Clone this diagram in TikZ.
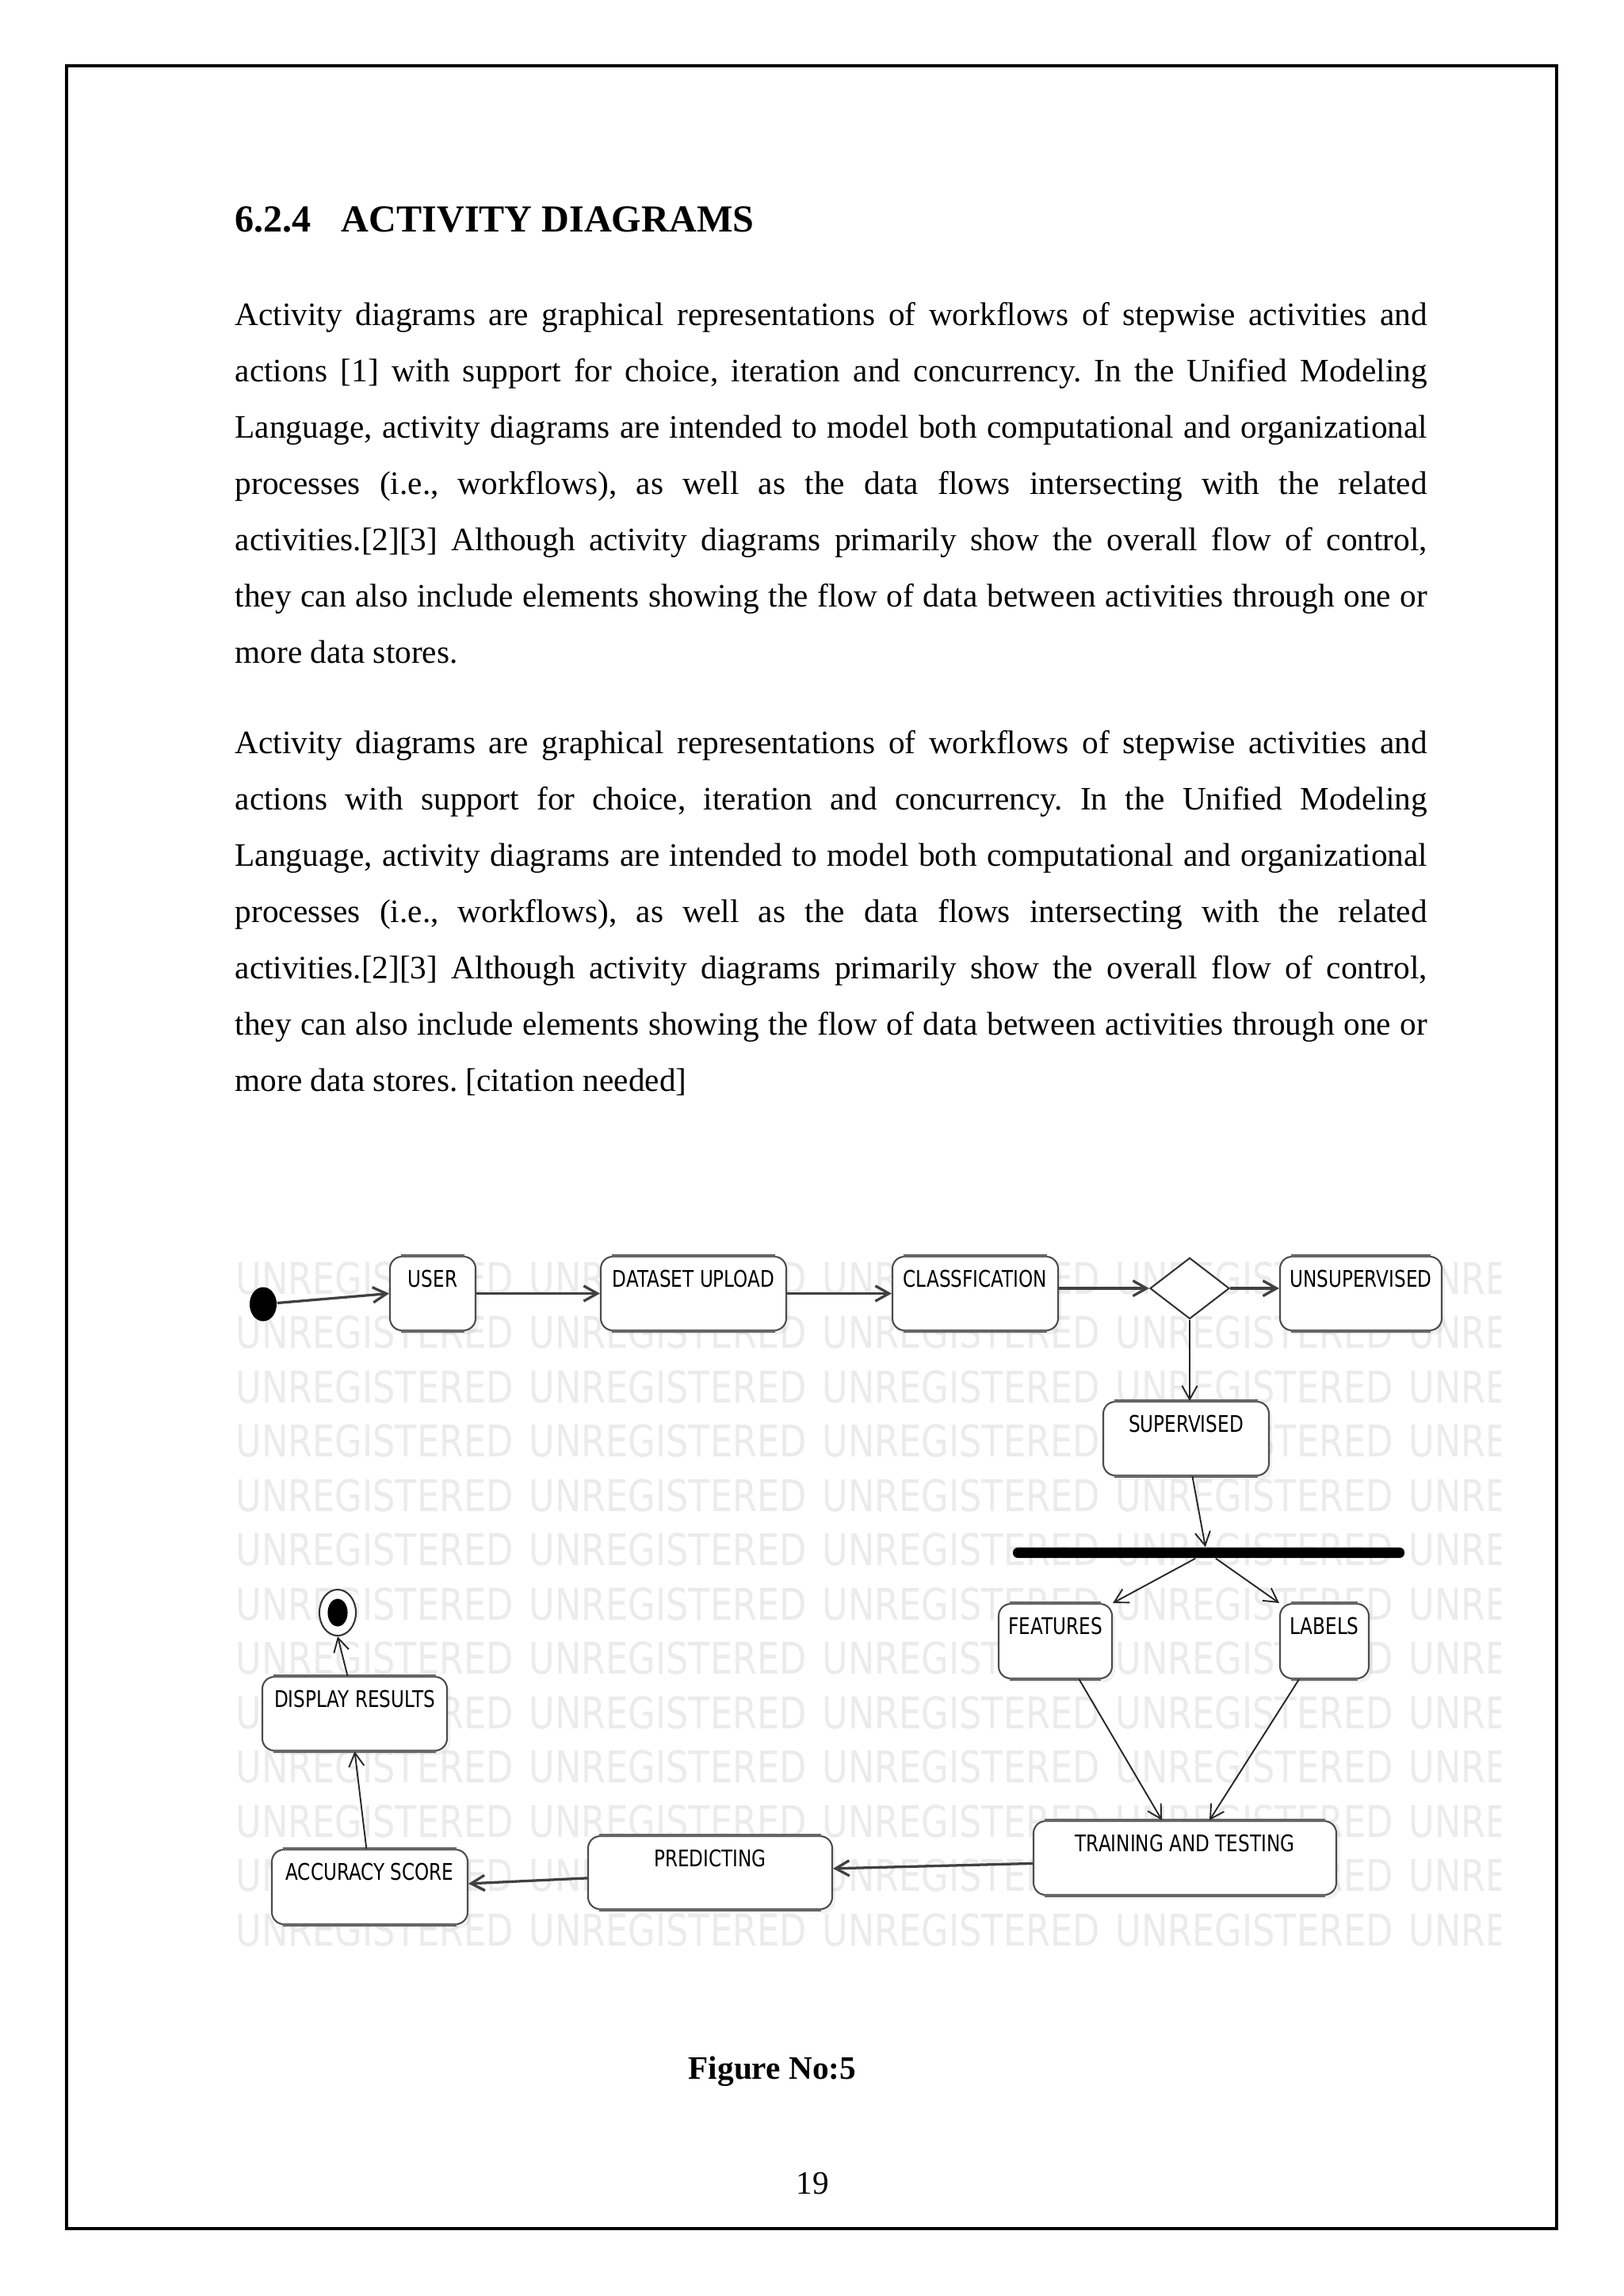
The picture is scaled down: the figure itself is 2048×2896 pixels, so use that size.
\documentclass[tikz,border=0pt]{standalone}
\usepackage{fontspec}
\setmainfont{Liberation Serif}
\newfontfamily\boxfont[FakeStretch=0.8]{DejaVu Sans}
\newfontfamily\wmfont[FakeStretch=0.81]{DejaVu Sans}
\usetikzlibrary{arrows.meta,shapes.geometric,shadows}
\frenchspacing
\tikzset{
  actbox/.style={draw=black!70, line width=0.6pt, rounded corners=4.4pt, fill=white, inner sep=0pt,
    drop shadow={shadow xshift=1.2pt, shadow yshift=-1.5pt, opacity=0.10}},
  edgeline/.style={draw=black!60, line width=1.1pt},
  boxtext/.style={font=\boxfont\fontsize{8.4pt}{10pt}\selectfont, inner sep=0pt, text=black},
  wm/.style={font=\wmfont\fontsize{16pt}{18pt}\selectfont, text=black!8, inner sep=0pt},
  bodytext/.style={font=\fontsize{12pt}{20.7pt}\selectfont, anchor=base west, inner sep=0pt},
  conn/.style={draw=black!85, line width=0.55pt, -{Straight Barb[length=5pt,width=5.6pt]}},
  connthick/.style={draw=black!75, line width=0.95pt, -{Straight Barb[length=5pt,width=5.6pt]}},
}
\newcommand\actbox[6]{%
  \node[actbox, minimum width={(#4-#2)*0.29067pt}, minimum height={(#5-#3)*0.29067pt}] (#1) at ({(#2+#4)/2},{(#3+#5)/2}) {};
  \draw[edgeline] ([xshift=4.4pt]#1.north west) -- ([xshift=-4.4pt]#1.north east);
  \draw[edgeline] ([xshift=4.4pt]#1.south west) -- ([xshift=-4.4pt]#1.south east);
  \node[boxtext, anchor=base] (#1-t) at ([yshift=-11.4pt]#1.north) {#6};}
\newcommand\jline[3]{\node[bodytext] (#1) at (296,#2) {\makebox[437.2pt][s]{#3}};}
\newcommand\lline[3]{\node[bodytext] (#1) at (296,#2) {#3};}
\begin{document}
\begin{tikzpicture}[x=0.29067pt, y=-0.29067pt]
\fill[white] (0,0) rectangle (2048,2896);
\useasboundingbox (0,0) rectangle (2048,2896);
% page frame
\draw[line width=1pt] (84,83) rectangle (1964,2811);
% heading
\node[font=\bfseries\fontsize{14pt}{17pt}\selectfont, anchor=base west, inner sep=0pt] (head) at (296,292) {6.2.4\hspace{11pt}ACTIVITY DIAGRAMS};
% paragraph 1
\jline{pa1}{410}{Activity diagrams are graphical representations of workflows of stepwise activities and}
\jline{pa2}{481}{actions [1] with support for choice, iteration and concurrency. In the Unified Modeling}
\jline{pa3}{552}{Language, activity diagrams are intended to model both computational and organizational}
\jline{pa4}{623}{processes (i.e., workflows), as well as the data flows intersecting with the related}
\jline{pa5}{694}{activities.[2][3] Although activity diagrams primarily show the overall flow of control,}
\jline{pa6}{765}{they can also include elements showing the flow of data between activities through one or}
\lline{pa7}{836}{more data stores.}
% paragraph 2
\jline{pb1}{950}{Activity diagrams are graphical representations of workflows of stepwise activities and}
\jline{pb2}{1021}{actions with support for choice, iteration and concurrency. In the Unified Modeling}
\jline{pb3}{1092}{Language, activity diagrams are intended to model both computational and organizational}
\jline{pb4}{1163}{processes (i.e., workflows), as well as the data flows intersecting with the related}
\jline{pb5}{1234}{activities.[2][3] Although activity diagrams primarily show the overall flow of control,}
\jline{pb6}{1305}{they can also include elements showing the flow of data between activities through one or}
\lline{pb7}{1376}{more data stores. [citation needed]}
% watermark
\begin{scope}
\clip (290,1580) rectangle (1893,2480);
\foreach \r in {0,...,12}{\foreach \c in {0,...,4}{
  \node[wm, anchor=base west] (wm-\r-\c) at ({297+370*\c},{1632+68.5*\r}) {UNREGISTERED};}}
\end{scope}
% nodes
\node[ellipse, fill=black, minimum width=9.9pt, minimum height=12.5pt, inner sep=0pt] (dot) at (332,1645) {};
\actbox{user}{492}{1585}{600}{1678}{USER}
\actbox{data}{758}{1585}{992}{1678}{DATASET UPLOAD}
\actbox{class}{1126}{1585}{1335}{1678}{CLASSFICATION}
\node[diamond, draw=black!80, line width=0.6pt, fill=white, minimum width=29.1pt, minimum height=22.4pt, inner sep=0pt] (dia) at (1501,1625) {};
\actbox{unsup}{1615}{1585}{1819}{1678}{UNSUPERVISED}
\actbox{sup}{1392}{1768}{1601}{1861}{SUPERVISED}
\node[fill=black, rounded corners=1.8pt, minimum width=143.6pt, minimum height=3.8pt, inner sep=0pt] (bar) at (1525,1958.5) {};
\actbox{feat}{1260}{2023}{1403}{2117}{FEATURES}
\actbox{lab}{1615}{2023}{1727}{2117}{LABELS}
\actbox{train}{1304}{2297}{1686}{2390}{TRAINING AND TESTING}
\actbox{pred}{742}{2316}{1050}{2408}{PREDICTING}
\actbox{acc}{343}{2333}{590}{2427}{ACCURACY SCORE}
\actbox{disp}{331}{2115}{564}{2208}{DISPLAY RESULTS}
\node[ellipse, draw=black!80, line width=0.6pt, fill=white, minimum width=13.4pt, minimum height=16.9pt, inner sep=0pt] (final) at (426,2034) {};
\node[ellipse, fill=black, minimum width=7.3pt, minimum height=10.2pt, inner sep=0pt] (finalin) at (final) {};
% connectors
\draw[connthick] (dot) -- (user.west);
\draw[connthick] (user.east) -- (data.west);
\draw[connthick] (data.east) -- (class.west);
\draw[connthick] (dia.west -| class.east) -- (dia.west);
\draw[connthick] (dia.east) -- (dia.east -| unsup.west);
\draw[conn] (dia.south) -- (dia.south |- sup.north);
\draw[conn] ([xshift=2.3pt]sup.south) -- ([xshift=-1.2pt]bar.north);
\draw[conn] ([xshift=-4.9pt]bar.south) -- (feat.north east);
\draw[conn] ([xshift=2.6pt]bar.south) -- (lab.north west);
\draw[conn] ([xshift=8.7pt]feat.south) -- ([xshift=-8.4pt]train.north);
\draw[conn] ([xshift=-9.3pt]lab.south) -- ([xshift=9pt]train.north);
\draw[connthick] ([yshift=-2pt]train.west) -- ([yshift=1.5pt]pred.east);
\draw[connthick] ([yshift=-2pt]pred.west) -- ([yshift=1.2pt]acc.east);
\draw[conn] ([xshift=-1.2pt]acc.north) -- (disp.south);
\draw[conn] ([xshift=-2.6pt]disp.north) -- (final.south);
% caption and page number
\node[font=\bfseries\fontsize{12pt}{14pt}\selectfont, anchor=base west, inner sep=0pt] (cap) at (868,2622) {Figure No:5};
\node[font=\fontsize{12pt}{14pt}\selectfont, anchor=base, inner sep=0pt] (pnum) at (1025,2767) {19};
\end{tikzpicture}
\end{document}
